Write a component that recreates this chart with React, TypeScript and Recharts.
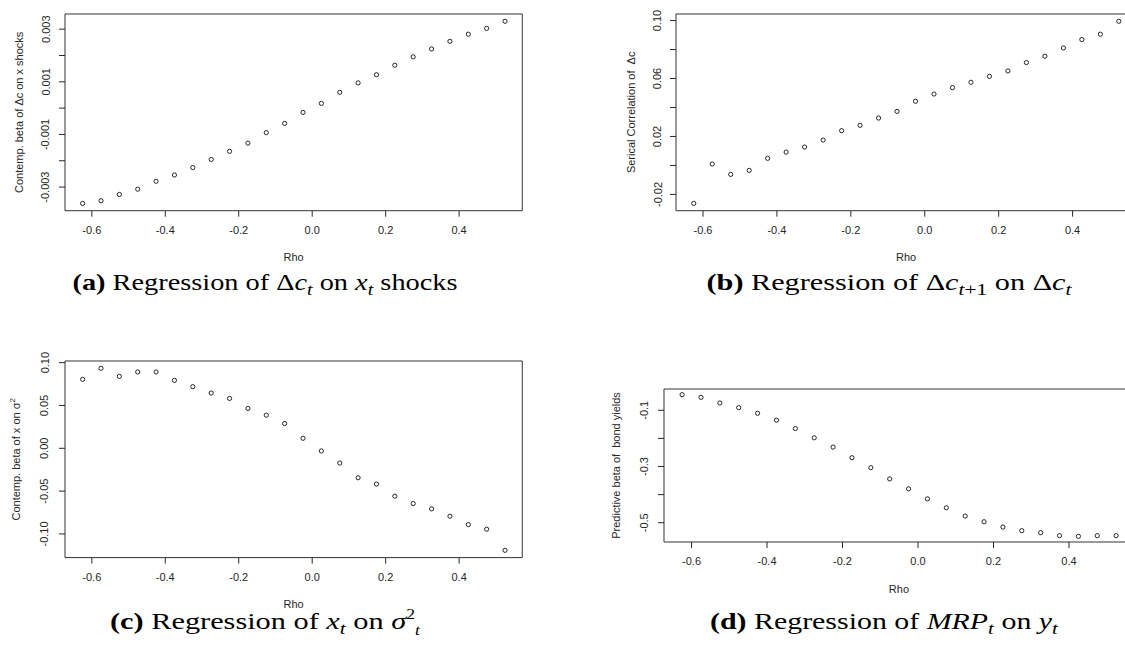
import React from 'react';
import { ScatterChart, Scatter, XAxis, YAxis, ReferenceArea } from 'recharts';

// ---------- data ----------
const rho = [-0.625, -0.575, -0.525, -0.475, -0.425, -0.375, -0.325, -0.275, -0.225, -0.175, -0.125, -0.075,
  -0.025, 0.025, 0.075, 0.125, 0.175, 0.225, 0.275, 0.325, 0.375, 0.425, 0.475, 0.525];

const betaDcOnXShocks = [-0.00362, -0.00352, -0.00328, -0.00308, -0.00278, -0.00254, -0.00226, -0.00195,
  -0.00164, -0.00133, -0.00093, -0.00058, -0.00016, 0.00018, 0.0006, 0.00096, 0.00127, 0.00163, 0.00195,
  0.00225, 0.00254, 0.00281, 0.00303, 0.0033];
const serialCorrDc = [-0.0262, 0.001, -0.0062, -0.0034, 0.0049, 0.0092, 0.0127, 0.0175, 0.024, 0.0277, 0.0327,
  0.0373, 0.0443, 0.0493, 0.0537, 0.0574, 0.0615, 0.0652, 0.071, 0.0754, 0.0811, 0.0869, 0.0906, 0.0995];
const betaXOnSigma2 = [0.0805, 0.0934, 0.084, 0.0891, 0.0891, 0.0793, 0.0719, 0.0645, 0.0582, 0.0465, 0.0387,
  0.0289, 0.0117, -0.0031, -0.0172, -0.0344, -0.0418, -0.0559, -0.0645, -0.0707, -0.0793, -0.0891, -0.0945, -0.1191];
const betaBondYields = [-0.0445, -0.054, -0.074, -0.0906, -0.1106, -0.1354, -0.1649, -0.1979, -0.231, -0.2687,
  -0.3041, -0.3442, -0.3796, -0.415, -0.4469, -0.4764, -0.4965, -0.5153, -0.5283, -0.5354, -0.546, -0.5484,
  -0.546, -0.546];

const rhoTicks = [-0.6, -0.4, -0.2, 0, 0.2, 0.4];
const rhoTickLabels = ['-0.6', '-0.4', '-0.2', '0.0', '0.2', '0.4'];
const aTicks = [-0.003, -0.002, -0.001, 0, 0.001, 0.002, 0.003];
const aTickLabels = ['-0.003', '', '-0.001', '', '0.001', '', '0.003'];
const bTicks = [-0.02, 0, 0.02, 0.04, 0.06, 0.08, 0.1];
const bTickLabels = ['-0.02', '', '0.02', '', '0.06', '', '0.10'];
const cTicks = [-0.1, -0.05, 0, 0.05, 0.1];
const cTickLabels = ['-0.10', '-0.05', '0.00', '0.05', '0.10'];
const dTicks = [-0.5, -0.4, -0.3, -0.2, -0.1];
const dTickLabels = ['-0.5', '', '-0.3', '', '-0.1'];

const xTitle = 'Rho';
const aTitle = 'Contemp. beta of \u0394c on x shocks';
const bTitle = 'Serical Correlation of  \u0394c';
const cTitle = 'Contemp. beta of x on \u03c3';
const dTitle = 'Predictive beta of  bond yields';

// ---------- style ----------
const X_DOMAIN: [number, number] = [-0.673, 0.572];
const FONT = '"Liberation Sans", Arial, sans-serif';
const SERIF = '"Liberation Serif", "Times New Roman", serif';
const INK = '#262626';
const FS = 11;
const CAP = 24;
const SUB = 17;

const findIdx = (arr: number[], v: number) => arr.findIndex((t) => Math.abs(t - v) < 1e-9);

function Panel(p: any) {
  const { left, top, boxW, boxH, ys, ticks, tickLabels, title, titleOffset, tickOffset, sup } = p;
  const data = rho.map((r, i) => ({ x: r, y: ys[i] }));
  const lo = Math.min(...ys);
  const hi = Math.max(...ys);
  const pad = (hi - lo) * 0.04;
  const yDomain: [number, number] = [lo - pad, hi + pad];
  const ML = 70, MR = 10, MT = 10, MB = 60;

  const XTick = (props: any) => {
    const { x, y, payload } = props;
    const i = findIdx(rhoTicks, payload.value);
    return (
      <text x={x} y={y + 13.3} textAnchor="middle" dominantBaseline="central" fontSize={FS} fontFamily={FONT} fill={INK}>
        {rhoTickLabels[i]}
      </text>
    );
  };
  const YTick = (props: any) => {
    const { x, y, payload } = props;
    const i = findIdx(ticks, payload.value);
    const label = tickLabels[i];
    if (!label) return <g />;
    const cx = x - (tickOffset - 6);
    return (
      <text x={cx} y={y} transform={`rotate(-90 ${cx} ${y})`} textAnchor="middle" dominantBaseline="central"
        fontSize={FS} fontFamily={FONT} fill={INK}>
        {label}
      </text>
    );
  };
  const XTitle = (props: any) => {
    const vb = props.viewBox || {};
    return (
      <text x={vb.x + vb.width / 2} y={vb.y + 46.8} textAnchor="middle" dominantBaseline="central" fontSize={FS}
        fontFamily={FONT} fill={INK}>
        {xTitle}
      </text>
    );
  };
  const YTitle = (props: any) => {
    const vb = props.viewBox || {};
    const cx = vb.x + vb.width - titleOffset;
    const cy = vb.y + vb.height / 2;
    return (
      <text x={cx} y={cy} transform={`rotate(-90 ${cx} ${cy})`} textAnchor="middle" dominantBaseline="central"
        fontSize={FS} fontFamily={FONT} fill={INK} style={{ whiteSpace: 'pre' }}>
        <tspan>{title}</tspan>
        {sup ? <tspan dy={-4} fontSize={8}>{sup}</tspan> : null}
      </text>
    );
  };

  return (
    <div style={{ position: 'absolute', left: left - ML, top: top - MT }}>
      <ScatterChart width={ML + boxW + MR} height={MT + boxH + MB} margin={{ top: MT, right: MR, bottom: 0, left: 0 }}>
        <XAxis type="number" dataKey="x" domain={X_DOMAIN} ticks={rhoTicks} interval={0} allowDataOverflow
          height={MB} tickSize={6} tickMargin={0} axisLine={false} tickLine={{ stroke: INK }} tick={XTick}
          label={{ content: XTitle }} />
        <YAxis type="number" dataKey="y" domain={yDomain} ticks={ticks} interval={0} allowDataOverflow
          width={ML} tickSize={6} tickMargin={0} axisLine={false} tickLine={{ stroke: INK }} tick={YTick}
          label={{ content: YTitle }} />
        <ReferenceArea x1={X_DOMAIN[0]} x2={X_DOMAIN[1]} y1={yDomain[0]} y2={yDomain[1]} fill="none"
          fillOpacity={0} stroke="#333" strokeWidth={1} ifOverflow="visible" />
        <Scatter data={data} isAnimationActive={false}
          shape={(s: any) => <circle cx={s.cx} cy={s.cy} r={2.1} fill="none" stroke="#111" strokeWidth={0.9} />} />
      </ScatterChart>
    </div>
  );
}

export default function App() {
  return (
    <div style={{ position: 'absolute', left: 0, top: 0, width: 1125, height: 651, overflow: 'hidden', background: '#fff' }}>
      <Panel left={64.8} top={14} boxW={457.3} boxH={196.7} ys={betaDcOnXShocks} ticks={aTicks}
        tickLabels={aTickLabels} title={aTitle} titleOffset={46.5} tickOffset={19.5} />
      <Panel left={675.6} top={14} boxW={460.2} boxH={196.7} ys={serialCorrDc} ticks={bTicks}
        tickLabels={bTickLabels} title={bTitle} titleOffset={44.6} tickOffset={18.5} />
      <Panel left={64.8} top={360.7} boxW={457.3} boxH={196.6} ys={betaXOnSigma2} ticks={cTicks}
        tickLabels={cTickLabels} title={cTitle} sup="2" titleOffset={49} tickOffset={20.5} />
      <Panel left={664} top={389.3} boxW={469.9} boxH={153} ys={betaBondYields} ticks={dTicks}
        tickLabels={dTickLabels} title={dTitle} titleOffset={47.6} tickOffset={20} />

      <svg width={1125} height={651} style={{ position: 'absolute', left: 0, top: 0, pointerEvents: 'none' }}>
        <g fontFamily={SERIF} fontSize={CAP} fill="#000" style={{ whiteSpace: 'pre' }}>
          <text x={265} y={290} textAnchor="middle" textLength={385} lengthAdjust="spacingAndGlyphs">
            <tspan fontWeight="bold">(a)</tspan>
            <tspan> Regression of Δ</tspan>
            <tspan fontStyle="italic">c</tspan>
            <tspan dy={5} fontSize={SUB} fontStyle="italic">t</tspan>
            <tspan dy={-5}> on </tspan>
            <tspan fontStyle="italic">x</tspan>
            <tspan dy={5} fontSize={SUB} fontStyle="italic">t</tspan>
            <tspan dy={-5}> shocks</tspan>
          </text>
          <text x={889} y={290} textAnchor="middle" textLength={365} lengthAdjust="spacingAndGlyphs">
            <tspan fontWeight="bold">(b)</tspan>
            <tspan> Regression of Δ</tspan>
            <tspan fontStyle="italic">c</tspan>
            <tspan dy={5} fontSize={SUB} fontStyle="italic">t</tspan>
            <tspan fontSize={SUB}>+1</tspan>
            <tspan dy={-5}> on Δ</tspan>
            <tspan fontStyle="italic">c</tspan>
            <tspan dy={5} fontSize={SUB} fontStyle="italic">t</tspan>
          </text>
          <text x={265} y={629} textAnchor="middle" textLength={310} lengthAdjust="spacingAndGlyphs">
            <tspan fontWeight="bold">(c)</tspan>
            <tspan> Regression of </tspan>
            <tspan fontStyle="italic">x</tspan>
            <tspan dy={5} fontSize={SUB} fontStyle="italic">t</tspan>
            <tspan dy={-5}> on </tspan>
            <tspan fontStyle="italic">σ</tspan>
            <tspan dy={-10} fontSize={14}>2</tspan>
            <tspan dy={16} fontSize={14} fontStyle="italic">t</tspan>
          </text>
          <text x={884} y={629} textAnchor="middle" textLength={348} lengthAdjust="spacingAndGlyphs">
            <tspan fontWeight="bold">(d)</tspan>
            <tspan> Regression of </tspan>
            <tspan fontStyle="italic">MRP</tspan>
            <tspan dy={5} fontSize={SUB} fontStyle="italic">t</tspan>
            <tspan dy={-5}> on </tspan>
            <tspan fontStyle="italic">y</tspan>
            <tspan dy={5} fontSize={SUB} fontStyle="italic">t</tspan>
          </text>
        </g>
      </svg>
    </div>
  );
}
